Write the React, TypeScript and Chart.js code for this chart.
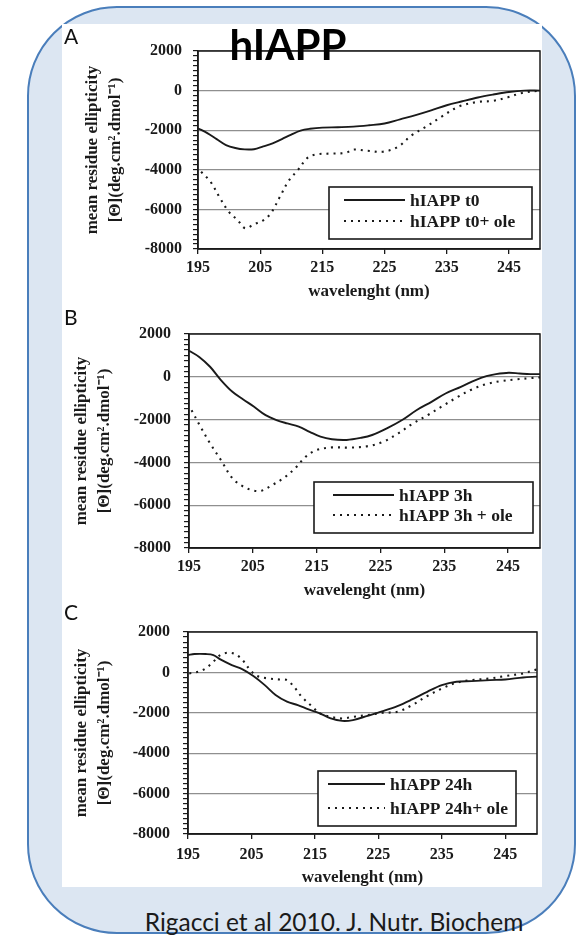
import React, { useEffect, useRef } from "react";
import { Chart, registerables } from "chart.js";

Chart.register(...registerables);

// ---------------- data ----------------
const X_TICKS = [195, 205, 215, 225, 235, 245];
const X_MIN = 195;
const X_MAX = 250;
const Y_MIN = -8000;
const Y_MAX = 2000;
const Y_LABEL_STEP = 2000;
const Y_MINOR_STEP = 250;

// Panel A
const A_T0_LABEL = "hIAPP t0";
const A_T0_WL = [195, 196.5, 198, 199.5, 201, 202.5, 204, 205.5, 207, 208.5, 210, 211.5, 213, 215, 217.5, 220, 222.5, 225, 227.5, 230, 232.5, 235, 237.5, 240, 242.5, 245, 247.5, 250];
const A_T0 = [-1900, -2150, -2450, -2750, -2900, -2970, -2960, -2820, -2670, -2450, -2220, -2020, -1930, -1870, -1850, -1820, -1750, -1660, -1450, -1240, -1000, -740, -540, -350, -200, -70, 0, 0];
const A_OLE_LABEL = "hIAPP t0+ ole";
const A_OLE_WL = [195.5, 197, 198.4, 199.9, 201.4, 202.6, 204, 205.5, 206.7, 208.2, 209.6, 211.1, 212.6, 214.1, 216.4, 218.8, 220, 222.3, 224.7, 227.1, 229.4, 231.8, 234.1, 237, 240, 242.4, 244.7, 247.1, 250];
const A_OLE = [-4100, -4600, -5350, -6100, -6550, -6950, -6750, -6550, -6200, -5350, -4550, -4000, -3400, -3220, -3180, -3140, -2980, -3040, -3090, -2850, -2250, -1800, -1330, -800, -570, -520, -350, -120, 0];

// Panel B
const B_3H_LABEL = "hIAPP 3h";
const B_3H_WL = [195, 196.6, 198.3, 200, 201.8, 203.5, 205.2, 207, 208.7, 210.4, 212.2, 213.9, 215.6, 217.4, 219.7, 222, 223.7, 226, 228.4, 230.7, 233, 235.2, 237.6, 239.9, 241.6, 243.1, 245.1, 246.8, 248.5, 250];
const B_3H = [1220, 930, 470, -150, -700, -1060, -1400, -1790, -2020, -2180, -2330, -2570, -2800, -2920, -2950, -2850, -2720, -2410, -2020, -1550, -1170, -780, -470, -150, 30, 125, 190, 155, 125, 125];
const B_OLE_LABEL = "hIAPP 3h + ole";
const B_OLE_WL = [195.4, 196.8, 198.3, 200, 201.8, 203.5, 205.2, 206.4, 208.1, 209.8, 211.6, 213.3, 215, 217.4, 220.3, 223.2, 225.5, 227.8, 230.1, 232.4, 234.7, 237, 239.3, 241.6, 243.9, 246.3, 248.6, 250];
const B_OLE = [-1560, -2330, -3110, -3890, -4740, -5130, -5320, -5320, -5050, -4740, -4280, -3730, -3420, -3300, -3310, -3230, -3030, -2640, -2180, -1790, -1370, -960, -590, -340, -200, -120, -60, -30];

// Panel C
const C_24H_LABEL = "hIAPP 24h";
const C_24H_WL = [195, 196, 197.8, 199, 200.1, 201.9, 203.6, 205.3, 207.1, 208.8, 210.6, 212.3, 214, 215.8, 217.5, 219.3, 221, 223.3, 225.7, 228, 230.3, 232.7, 235, 237.3, 239.7, 242.6, 245, 247.8, 250];
const C_24H = [860, 910, 910, 860, 645, 365, 150, -180, -630, -1120, -1450, -1620, -1830, -2030, -2280, -2400, -2360, -2150, -1920, -1670, -1340, -960, -630, -460, -430, -380, -350, -250, -210];
const C_OLE_LABEL = "hIAPP 24h+ ole";
const C_OLE_WL = [195.2, 196.6, 197.8, 199, 200.1, 201.3, 202.4, 203.6, 204.8, 205.9, 207.7, 209.4, 210.6, 211.7, 212.9, 214.6, 215.8, 217.5, 219.3, 221, 223.3, 225.7, 228, 230.3, 232.7, 235, 237.3, 239.7, 242.6, 245, 247.8, 250];
const C_OLE = [-50, 30, 200, 530, 860, 975, 910, 610, 115, -180, -300, -350, -380, -710, -1200, -1700, -2030, -2200, -2280, -2200, -2110, -2000, -1950, -1620, -1170, -800, -510, -380, -300, -180, -50, 150];

const X_TITLE = "wavelenght (nm)";
const Y_TITLE = ["mean residue ellipticity", "[\u0398](deg.cm\u00B2.dmol\u207B\u00B9)"];
const MAIN_TITLE = "hIAPP";
const FOOTER = "Rigacci et al 2010. J. Nutr. Biochem";

// ---------------- styles / layout ----------------
const SERIF = '"Liberation Serif", "Times New Roman", serif';
const INK = "#1a1a1a";
const SOLID = { borderWidth: 1.9, borderDash: [] as number[] };
const DOTTED = { borderWidth: 2.1, borderDash: [2, 5] };

type PanelSpec = {
  letter: string;
  top: number;
  height: number;
  padTop: number;
  padRight: number;
  yWidth: number;
  xHeight: number;
  xTickPad: number;
  xTitlePad: number;
  yTitlePad: number;
  yTickPad: number;
  legend: { width: number; height: number; right: number; bottom: number; rowTop: number; rowGap: number; sampleLeft: number; sampleLen: number };
  series: { label: string; wl: number[]; val: number[]; style: { borderWidth: number; borderDash: number[] } }[];
};

const PANELS: PanelSpec[] = [
  {
    letter: "A", top: 24, height: 282, padTop: 27, padRight: 2, yWidth: 136, xHeight: 57,
    xTickPad: 4, xTitlePad: 4, yTitlePad: 20, yTickPad: 11,
    legend: { width: 203, height: 52, right: 8, bottom: 10, rowTop: 13, rowGap: 21, sampleLeft: 15, sampleLen: 61 },
    series: [
      { label: A_T0_LABEL, wl: A_T0_WL, val: A_T0, style: SOLID },
      { label: A_OLE_LABEL, wl: A_OLE_WL, val: A_OLE, style: DOTTED },
    ],
  },
  {
    letter: "B", top: 306, height: 297, padTop: 28, padRight: 2, yWidth: 127, xHeight: 55,
    xTickPad: 4, xTitlePad: 2, yTitlePad: 9, yTickPad: 13,
    legend: { width: 219, height: 51, right: 7, bottom: 15, rowTop: 13, rowGap: 20, sampleLeft: 19, sampleLen: 61 },
    series: [
      { label: B_3H_LABEL, wl: B_3H_WL, val: B_3H, style: SOLID },
      { label: B_OLE_LABEL, wl: B_OLE_WL, val: B_OLE, style: DOTTED },
    ],
  },
  {
    letter: "C", top: 603, height: 286, padTop: 29, padRight: 5, yWidth: 126, xHeight: 55,
    xTickPad: 6, xTitlePad: 1, yTitlePad: 9, yTickPad: 13,
    legend: { width: 198, height: 55, right: 21, bottom: 8, rowTop: 13, rowGap: 24, sampleLeft: 10, sampleLen: 57 },
    series: [
      { label: C_24H_LABEL, wl: C_24H_WL, val: C_24H, style: SOLID },
      { label: C_OLE_LABEL, wl: C_OLE_WL, val: C_OLE, style: DOTTED },
    ],
  },
];

const CANVAS_LEFT = 62;
const CANVAS_WIDTH = 480;

const framePlugin = {
  id: "frameAndLegend",
  afterDraw(chart: any, _args: any, opts: any) {
    const { ctx, chartArea } = chart;
    ctx.save();
    // plot frame
    ctx.strokeStyle = INK;
    ctx.lineWidth = 1.5;
    ctx.setLineDash([]);
    ctx.strokeRect(chartArea.left, chartArea.top, chartArea.right - chartArea.left, chartArea.bottom - chartArea.top);
    // boxed legend
    const lg = opts.legend;
    if (lg) {
      const x = chartArea.right - lg.right - lg.width;
      const y = chartArea.bottom - lg.bottom - lg.height;
      ctx.fillStyle = "#ffffff";
      ctx.fillRect(x, y, lg.width, lg.height);
      ctx.lineWidth = 1.6;
      ctx.strokeStyle = INK;
      ctx.strokeRect(x, y, lg.width, lg.height);
      chart.data.datasets.forEach((ds: any, i: number) => {
        const ry = y + lg.rowTop + i * lg.rowGap;
        ctx.setLineDash(ds.borderDash || []);
        ctx.lineWidth = ds.borderWidth;
        ctx.strokeStyle = ds.borderColor;
        ctx.beginPath();
        ctx.moveTo(x + lg.sampleLeft, ry);
        ctx.lineTo(x + lg.sampleLeft + lg.sampleLen, ry);
        ctx.stroke();
        ctx.setLineDash([]);
        ctx.fillStyle = INK;
        ctx.font = `bold 17.5px ${SERIF}`;
        ctx.textBaseline = "middle";
        ctx.textAlign = "left";
        ctx.fillText(ds.label, x + lg.sampleLeft + lg.sampleLen + 5, ry + 1);
      });
    }
    ctx.restore();
  },
};

function Panel({ spec }: { spec: PanelSpec }) {
  const ref = useRef<HTMLCanvasElement | null>(null);
  useEffect(() => {
    if (!ref.current) return;
    const chart = new Chart(ref.current, {
      type: "line",
      data: {
        datasets: spec.series.map((s) => ({
          label: s.label,
          data: s.wl.map((x, i) => ({ x, y: s.val[i] })),
          borderColor: INK,
          backgroundColor: INK,
          borderWidth: s.style.borderWidth,
          borderDash: s.style.borderDash,
          pointRadius: 0,
          tension: 0.35,
          fill: false,
        })),
      },
      options: {
        animation: false,
        responsive: false,
        devicePixelRatio: 1,
        layout: { padding: { top: spec.padTop, right: spec.padRight, bottom: 0, left: 0 } },
        plugins: {
          legend: { display: false },
          tooltip: { enabled: false },
          frameAndLegend: { legend: spec.legend },
        } as any,
        scales: {
          x: {
            type: "linear",
            min: X_MIN,
            max: X_MAX,
            afterBuildTicks: (scale: any) => {
              scale.ticks = X_TICKS.map((value) => ({ value }));
            },
            afterFit: (scale: any) => {
              scale.height = spec.xHeight;
            },
            ticks: {
              autoSkip: false,
              maxRotation: 0,
              padding: spec.xTickPad,
              color: INK,
              font: { family: SERIF, size: 16, weight: "bold" },
              callback: (v: any) => String(v),
            },
            grid: { drawOnChartArea: false, drawTicks: true, tickLength: 5, color: INK, lineWidth: 1.3 },
            border: { display: true, color: INK, width: 1.5 },
            title: {
              display: true,
              text: X_TITLE,
              color: INK,
              font: { family: SERIF, size: 17, weight: "bold", lineHeight: 1.2 },
              padding: { top: 0, bottom: spec.xTitlePad },
            },
          },
          y: {
            type: "linear",
            min: Y_MIN,
            max: Y_MAX,
            afterFit: (scale: any) => {
              scale.width = spec.yWidth;
            },
            ticks: {
              stepSize: Y_MINOR_STEP,
              maxTicksLimit: 100,
              autoSkip: false,
              padding: spec.yTickPad,
              color: INK,
              font: { family: SERIF, size: 16, weight: "bold" },
              callback: (v: any) => (Number(v) % Y_LABEL_STEP === 0 ? String(v) : ""),
            },
            grid: {
              drawOnChartArea: true,
              drawTicks: true,
              tickLength: 5,
              color: (c: any) => (c.tick && c.tick.value % Y_LABEL_STEP === 0 ? "#8f8f8f" : "rgba(0,0,0,0)"),
              tickColor: INK,
              lineWidth: 1.2,
            },
            border: { display: true, color: INK, width: 1.5 },
            title: {
              display: true,
              text: Y_TITLE,
              color: INK,
              font: { family: SERIF, size: 17, weight: "bold", lineHeight: 1.3 },
              padding: { top: spec.yTitlePad, bottom: 0 },
            },
          },
        },
      },
      plugins: [framePlugin],
    } as any);
    return () => chart.destroy();
  }, [spec]);
  return (
    <canvas
      ref={ref}
      width={CANVAS_WIDTH}
      height={spec.height}
      style={{ position: "absolute", left: CANVAS_LEFT, top: spec.top, width: CANVAS_WIDTH, height: spec.height }}
    />
  );
}

const LETTER_POS = [
  { letter: "A", top: 25 },
  { letter: "B", top: 306 },
  { letter: "C", top: 601 },
];

export default function App() {
  return (
    <div style={{ position: "absolute", left: 0, top: 0, width: 577, height: 935, overflow: "hidden", fontFamily: "Lato, 'Liberation Sans', sans-serif" }}>
      <div
        style={{
          position: "absolute",
          left: 27,
          top: 6,
          width: 549,
          height: 928,
          boxSizing: "border-box",
          border: "2.5px solid #4a7ebb",
          borderRadius: 90,
          background: "#dce6f2",
        }}
      />
      <div style={{ position: "absolute", left: 62, top: 24, width: 480, height: 863, background: "#ffffff" }} />
      {PANELS.map((p) => (
        <Panel key={p.letter} spec={p} />
      ))}
      {LETTER_POS.map((l) => (
        <div key={l.letter} style={{ position: "absolute", left: 64, top: l.top, fontSize: 21, lineHeight: "21px", color: "#111" }}>
          {l.letter}
        </div>
      ))}
      <div
        style={{
          position: "absolute",
          left: 168,
          width: 240,
          top: 23,
          textAlign: "center",
          fontSize: 42,
          lineHeight: "42px",
          fontWeight: 700,
          color: "#000",
        }}
      >
        {MAIN_TITLE}
      </div>
      <div
        style={{
          position: "absolute",
          left: 84,
          width: 500,
          top: 908,
          textAlign: "center",
          fontSize: 24.5,
          lineHeight: "28px",
          color: "#1a1a1a",
          whiteSpace: "nowrap",
        }}
      >
        {FOOTER}
      </div>
    </div>
  );
}
